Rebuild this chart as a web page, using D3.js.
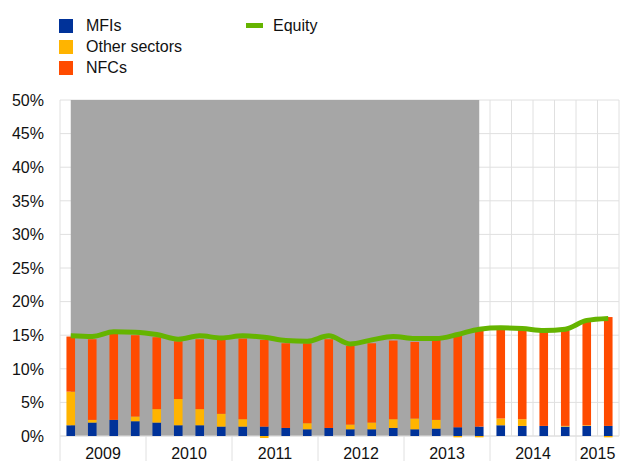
<!DOCTYPE html>
<html><head><meta charset="utf-8">
<script src="https://cdn.jsdelivr.net/npm/d3@7"></script>
<style>
html,body{margin:0;padding:0;background:#fff;}
svg{display:block;font-family:"Liberation Sans",Arial,sans-serif;}
</style></head>
<body><svg id="c" width="627" height="461"></svg>
<script>
const quarters = ["2009Q1","2009Q2","2009Q3","2009Q4","2010Q1","2010Q2","2010Q3","2010Q4",
  "2011Q1","2011Q2","2011Q3","2011Q4","2012Q1","2012Q2","2012Q3","2012Q4",
  "2013Q1","2013Q2","2013Q3","2013Q4","2014Q1","2014Q2","2014Q3","2014Q4","2015Q1","2015Q2"];
const years = ["2009","2010","2011","2012","2013","2014","2015"];
const mfis  = [1.6,2.0,2.4,2.2, 2.0,1.6,1.6,1.4, 1.4,1.4,1.2,1.0, 1.2,1.0,1.0,1.2, 1.0,1.1,1.3,1.4, 1.6,1.5,1.5,1.4, 1.5,1.5];
const other = [5.0,0.4,0.0,0.7, 2.0,3.9,2.4,1.9, 1.1,-0.3,0.0,0.9, 0.0,0.7,1.0,1.3, 1.6,1.3,-0.2,-0.2, 1.0,1.0,0.0,0.1, 0.1,-0.2];
const nfcs  = [8.2,12.0,12.8,12.1, 10.7,8.6,10.4,11.0, 12.0,12.9,12.6,11.9, 13.2,11.7,11.8,11.7, 11.4,11.9,14.0,14.6, 13.7,13.5,14.0,14.2, 15.4,16.2];
const equity = [14.9,14.8,15.5,15.45, 15.1,14.4,14.9,14.6, 14.9,14.7,14.2,14.1, 14.9,13.7,14.3,14.8, 14.5,14.5,15.1,15.9, 16.1,16.0,15.7,15.9, 17.2,17.5];
const shaded = [50,50,50,50,50,50,50,50,50,50,50,50,50,50,50,50,50,50,50,50,null,null,null,null,null,null];
const yTicks = [0,5,10,15,20,25,30,35,40,45,50];
const seriesNames = ["MFIs","Other sectors","NFCs"];
const lineName = "Equity";

const colors = {"MFIs":"#003299","Other sectors":"#ffb400","NFCs":"#ff4b00"};
const equityColor = "#65b400";
const gridColor = "#e0e0e0";

const svg = d3.select("#c");
const L = 60, R = 619, T = 100, B = 436;

const x = d3.scaleBand().domain(quarters).range([L, R]).paddingInner(0.6).paddingOuter(0.3);
const y = d3.scaleLinear().domain([0, 50]).range([B, T]);
const step = x.step();
const cx = q => x(q) + x.bandwidth() / 2;

// horizontal grid
svg.append("g").selectAll("line").data(yTicks).join("line")
  .attr("x1", L).attr("x2", R).attr("y1", d => y(d)).attr("y2", d => y(d))
  .attr("stroke", gridColor).attr("stroke-width", 1);
// vertical grid at band boundaries
const bounds = d3.range(quarters.length + 1).map(i => L + step * i);
svg.append("g").selectAll("line").data(bounds.slice(1)).join("line")
  .attr("x1", d => d).attr("x2", d => d).attr("y1", T).attr("y2", B)
  .attr("stroke", gridColor).attr("stroke-width", 1);

// shaded area
const area = d3.area().defined(d => d.v != null)
  .x(d => cx(d.q)).y0(y(0)).y1(d => y(d.v));
svg.append("path").datum(quarters.map((q, i) => ({q, v: shaded[i]})))
  .attr("d", area).attr("fill", "#a6a6a6");

// left axis line + x axis line
svg.append("line").attr("x1", L).attr("x2", L).attr("y1", T).attr("y2", 461)
  .attr("stroke", gridColor);
svg.append("line").attr("x1", L).attr("x2", R).attr("y1", B).attr("y2", B)
  .attr("stroke", gridColor);

// year separators
const yearInfo = years.map(yr => {
  const idx = quarters.map((q, i) => q.startsWith(yr) ? i : -1).filter(i => i >= 0);
  return {yr, start: L + step * idx[0], end: L + step * (idx[idx.length - 1] + 1)};
});
svg.append("g").selectAll("line").data(yearInfo.slice(1)).join("line")
  .attr("x1", d => d.start).attr("x2", d => d.start).attr("y1", B).attr("y2", 461)
  .attr("stroke", gridColor);

// stacked bars
const rows = quarters.map((q, i) => ({q, "MFIs": mfis[i], "Other sectors": other[i], "NFCs": nfcs[i]}));
const stack = d3.stack().keys(seriesNames).offset(d3.stackOffsetDiverging);
const stacked = stack(rows);
svg.append("g").selectAll("g").data(stacked).join("g")
  .attr("fill", d => colors[d.key])
  .selectAll("rect").data(d => d).join("rect")
  .attr("x", d => x(d.data.q)).attr("width", x.bandwidth())
  .attr("y", d => y(Math.max(d[0], d[1])))
  .attr("height", d => Math.abs(y(d[0]) - y(d[1])));

// equity line
const line = d3.line().x((d, i) => cx(quarters[i])).y(d => y(d)).curve(d3.curveMonotoneX);
svg.append("path").datum(equity).attr("d", line)
  .attr("fill", "none").attr("stroke", equityColor).attr("stroke-width", 5)
  .attr("stroke-linejoin", "round");

// y labels
svg.append("g").selectAll("text").data(yTicks).join("text")
  .attr("x", 44).attr("y", d => y(d)).attr("dy", "0.36em")
  .attr("text-anchor", "end").attr("font-size", 16).attr("fill", "#111")
  .text(d => d + "%");

// year labels
svg.append("g").selectAll("text").data(yearInfo).join("text")
  .attr("x", d => Math.min((d.start + d.end) / 2, 625 - 16.5))
  .attr("y", 459).attr("text-anchor", "middle").attr("font-size", 16).attr("fill", "#111")
  .text(d => d.yr);

// legend
const lg = svg.append("g");
seriesNames.forEach((n, i) => {
  lg.append("rect").attr("x", 59).attr("y", 19 + i * 21).attr("width", 14).attr("height", 14).attr("fill", colors[n]);
  lg.append("text").attr("x", 86).attr("y", 31 + i * 21).attr("font-size", 16).attr("fill", "#111").text(n);
});
lg.append("line").attr("x1", 246).attr("x2", 263).attr("y1", 25.5).attr("y2", 25.5)
  .attr("stroke", equityColor).attr("stroke-width", 5);
lg.append("text").attr("x", 273).attr("y", 31).attr("font-size", 16).attr("fill", "#111").text(lineName);
</script></body></html>
